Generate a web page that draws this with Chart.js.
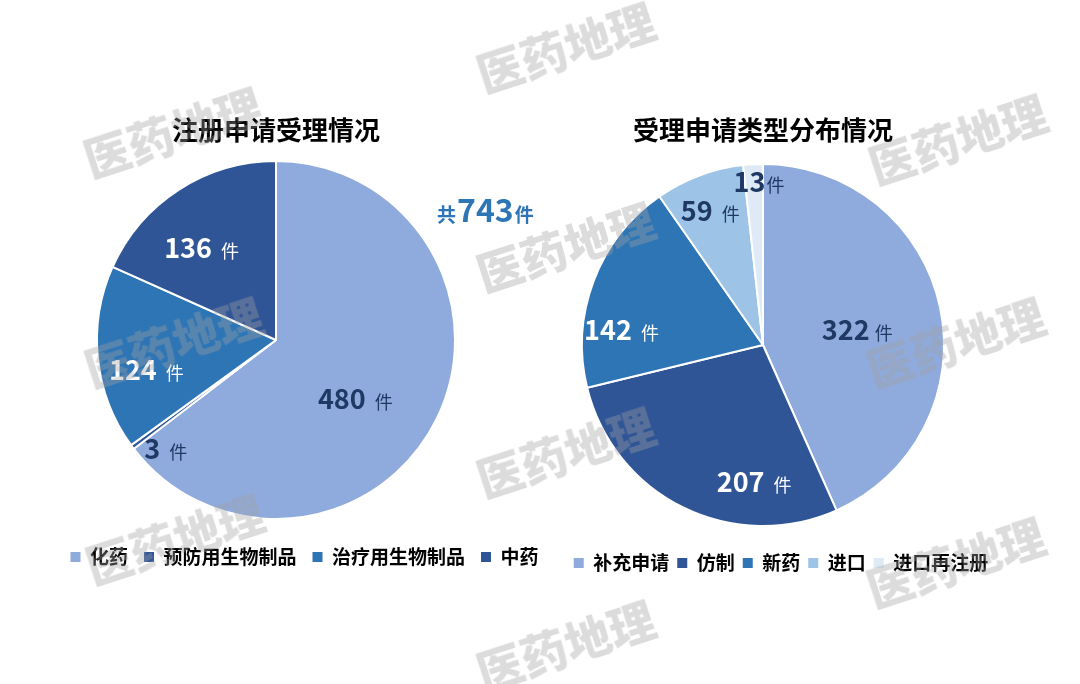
<!DOCTYPE html>
<html><head><meta charset="utf-8">
<script src="https://cdn.jsdelivr.net/npm/chart.js@4.4.1/dist/chart.umd.min.js"></script>
<style>
html,body{margin:0;padding:0;background:#fff;width:1080px;height:684px;overflow:hidden;position:relative;font-family:"Noto Sans CJK SC",sans-serif;}
#c1{position:absolute;left:-40px;top:0;}
#c2{position:absolute;left:480px;top:0;}
.wm{position:absolute;font-weight:900;font-size:46px;line-height:1;color:rgba(160,160,160,0.37);transform:translate(-50%,-50%) rotate(-18deg);white-space:nowrap;pointer-events:none;z-index:5;font-family:"Noto Sans CJK SC";}
#total{position:absolute;left:437px;top:192px;color:#2e75b6;font-weight:bold;display:flex;align-items:baseline;line-height:1;z-index:4;font-family:"Noto Sans CJK SC";}
#total .s{font-size:19px;}
#total .n{font-size:32px;margin:0 1px;}
</style>
</head><body>
<canvas id="c1" width="640" height="684"></canvas>
<canvas id="c2" width="600" height="684"></canvas>
<div id="total"><span class="s">共</span><span class="n" id="totalNum"></span><span class="s">件</span></div>
<div id="wms"></div>
<script>
// ---- data ----
const regTitle = '注册申请受理情况';
const regCategories = ['化药', '预防用生物制品', '治疗用生物制品', '中药'];
const regValues = [480, 3, 124, 136];

const typeTitle = '受理申请类型分布情况';
const typeCategories = ['补充申请', '仿制', '新药', '进口', '进口再注册'];
const typeValues = [322, 207, 142, 59, 13];

const unitLabel = '件';
const watermarkText = '医药地理';

// ---- styles ----
const FONT = '"Noto Sans CJK SC", "Noto Sans", sans-serif';
const regColors = ['#8FAADC', '#2F5597', '#2E75B6', '#2F5597'];
const typeColors = ['#8FAADC', '#2F5597', '#2E75B6', '#9DC3E6', '#DEEBF7'];
const DARK = '#1F3864', WHITE = '#FFFFFF';

const regPlace = [
  {f: 0.6, dx: -17, dy: 12, gap: 9, color: DARK},
  {f: 0.9, dx: 19, dy: 13, gap: 9, color: DARK},
  {f: 0.7, dx: -5, dy: 17, gap: 9, color: WHITE},
  {f: 0.6, dx: -16, dy: -2, gap: 9, color: WHITE}
];
const typePlace = [
  {f: 0.6, dx: -12, dy: 8, gap: 5, color: DARK},
  {f: 0.7, dx: 47, dy: 24, gap: 9, color: WHITE},
  {f: 0.7, dx: -23, dy: 30, gap: 9, color: WHITE},
  {f: 0.75, dx: -5, dy: -7, gap: 9, color: DARK},
  {f: 0.9, dx: 5, dy: 0, gap: 1, color: DARK}
];

const sliceLabels = {
  id: 'sliceLabels',
  afterDatasetsDraw(chart, args, opts) {
    const ctx = chart.ctx;
    const meta = chart.getDatasetMeta(0);
    const values = chart.data.datasets[0].data;
    meta.data.forEach((arc, i) => {
      const p = arc.getProps(['x', 'y', 'startAngle', 'endAngle', 'outerRadius'], true);
      const mid = (p.startAngle + p.endAngle) / 2;
      const s = opts.place[i];
      const ax = p.x + Math.cos(mid) * p.outerRadius * s.f + s.dx;
      const ay = p.y + Math.sin(mid) * p.outerRadius * s.f + s.dy;
      const num = String(values[i]);
      ctx.save();
      ctx.textAlign = 'left';
      ctx.textBaseline = 'alphabetic';
      ctx.font = `bold ${opts.numSize}px ${FONT}`;
      const wn = ctx.measureText(num).width;
      ctx.font = `${opts.unitSize}px ${FONT}`;
      const wu = ctx.measureText(opts.unit).width;
      const x = ax - (wn + s.gap + wu) / 2;
      const base = ay + opts.numSize * 0.36;
      ctx.fillStyle = s.color;
      ctx.font = `bold ${opts.numSize}px ${FONT}`;
      ctx.fillText(num, x, base);
      ctx.font = `${opts.unitSize}px ${FONT}`;
      ctx.fillText(opts.unit, x + wn + s.gap, base);
      ctx.restore();
    });
  }
};

const legendShift = {
  id: 'legendShift',
  afterLayout(chart, args, opts) {
    const lg = chart.legend;
    if (!lg) return;
    lg.left += opts.x; lg.right += opts.x;
    lg.top += opts.y; lg.bottom += opts.y;
  }
};

function legendLabels(chart) {
  const items = Chart.overrides.pie.plugins.legend.labels.generateLabels(chart);
  items.forEach(it => { it.lineWidth = 0; it.strokeStyle = 'rgba(0,0,0,0)'; });
  return items;
}

function makePie(id, title, cats, vals, colors, place, pad, titlePad, shift, legendPad) {
  return new Chart(document.getElementById(id), {
    type: 'pie',
    data: {
      labels: cats,
      datasets: [{data: vals, backgroundColor: colors, borderColor: '#FFFFFF', borderWidth: 2}]
    },
    plugins: [legendShift, sliceLabels],
    options: {
      responsive: false,
      animation: false,
      events: [],
      layout: {padding: pad},
      plugins: {
        title: {display: true, text: title, color: '#000', font: {family: FONT, size: 26, weight: 'bold'}, padding: titlePad},
        legend: {
          display: true, position: 'bottom',
          labels: {generateLabels: legendLabels, boxWidth: 10, boxHeight: 10, padding: legendPad, color: '#000',
                   font: {family: FONT, size: 19, weight: 'bold'}}
        },
        tooltip: {enabled: false},
        legendShift: shift,
        sliceLabels: {place: place, numSize: 27, unitSize: 18, unit: unitLabel}
      }
    }
  });
}

makePie('c1', regTitle, regCategories, regValues, regColors, regPlace,
  {top: 0, left: 0, right: 8, bottom: 119}, {top: 114.4, bottom: 14.4}, {x: 28.5, y: 11.5}, 16);
makePie('c2', typeTitle, typeCategories, typeValues, typeColors, typePlace,
  {top: 0, left: 0, right: 34, bottom: 112 + 8}, {top: 114.4, bottom: 17.4}, {x: 18, y: 18.5}, 8);

document.getElementById('totalNum').textContent = regValues.reduce((a, b) => a + b, 0);

const wmPos = [[565,45],[172,130],[957,137],[565,245],[173,340],[955,340],[565,450],[174,537],[955,560],[565,643]];
const wmBox = document.getElementById('wms');
wmPos.forEach(([x, y]) => {
  const d = document.createElement('div');
  d.className = 'wm';
  d.style.left = x + 'px';
  d.style.top = y + 'px';
  d.textContent = watermarkText;
  wmBox.appendChild(d);
});
</script>
</body></html>
